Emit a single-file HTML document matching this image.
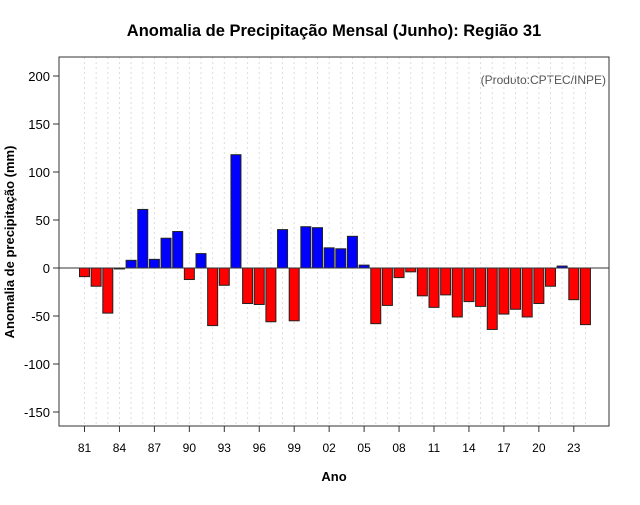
<!DOCTYPE html>
<html><head><meta charset="utf-8"><style>body{margin:0;background:#fff}svg{font-family:"Liberation Sans",sans-serif}</style></head>
<body>
<svg id="c" width="640" height="500">
<text x="334" y="36" text-anchor="middle" font-size="16.5" font-weight="bold">Anomalia de Precipitação Mensal (Junho): Região 31</text>
<text x="606" y="84" text-anchor="end" font-size="12" fill="#555">(Produto:CPTEC/INPE)</text>
<text x="334" y="481" text-anchor="middle" font-size="13" font-weight="bold">Ano</text>
<text transform="translate(14,242) rotate(-90)" text-anchor="middle" font-size="13" font-weight="bold">Anomalia de precipitação (mm)</text>
<g id="grid"></g><g id="bars"></g><g id="axes"></g>
<rect x="59" y="57" width="550" height="369" fill="none" stroke="#333"/>
</svg>
<script>
const years=[1981,1982,1983,1984,1985,1986,1987,1988,1989,1990,1991,1992,1993,1994,1995,1996,1997,1998,1999,2000,2001,2002,2003,2004,2005,2006,2007,2008,2009,2010,2011,2012,2013,2014,2015,2016,2017,2018,2019,2020,2021,2022,2023,2024];
const values=[-9,-19,-47,-1,8,61,9,31,38,-12,15,-60,-18,118,-37,-38,-56,40,-55,43,42,21,20,33,3,-58,-39,-10,-4,-29,-41,-28,-51,-35,-40,-64,-48,-43,-51,-37,-19,2,-33,-59];
const yTicks=[-150,-100,-50,0,50,100,150,200];
const xTicks=[1981,1984,1987,1990,1993,1996,1999,2002,2005,2008,2011,2014,2017,2020,2023];
const NS="http://www.w3.org/2000/svg";
const xs=y=>84.5+(y-1981)*11.65;
const ys=v=>268-v*0.96;
function mk(t,a,p){const e=document.createElementNS(NS,t);for(const k in a)e.setAttribute(k,a[k]);document.getElementById(p).appendChild(e);return e;}
years.forEach(y=>{const l=mk('line',{x1:xs(y),x2:xs(y),y1:57,y2:426,stroke:'#ddd','stroke-dasharray':'2,3'},'grid');

});
years.forEach((y,i)=>{const v=values[i];const r=mk('rect',{x:xs(y)-5,y:Math.min(ys(v),ys(0)),width:10,height:Math.abs(ys(v)-ys(0)),fill:v>=0?'#0000ff':'#ff0000',stroke:'#222','stroke-width':1},'bars');

});
const z=mk('line',{x1:59,x2:609,y1:ys(0),y2:ys(0),stroke:'#333'},'axes');


yTicks.forEach(v=>{mk('line',{x1:53,x2:59,y1:ys(v),y2:ys(v),stroke:'#333'},'axes');
const t=mk('text',{x:50,y:ys(v)+5,'text-anchor':'end','font-size':13},'axes');t.textContent=v;

});
xTicks.forEach(y=>{mk('line',{x1:xs(y),x2:xs(y),y1:426,y2:432,stroke:'#333'},'axes');
const t=mk('text',{x:xs(y),y:452,'text-anchor':'middle','font-size':12},'axes');t.textContent=String(y).slice(2);

});
</script>
</body></html>
